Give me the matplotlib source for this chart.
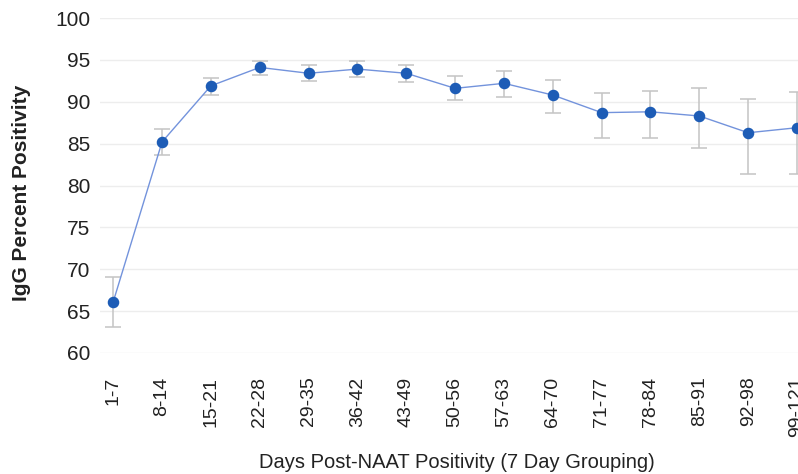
import numpy as np
import matplotlib.pyplot as plt

plt.rcParams['font.family'] = ['Liberation Sans', 'DejaVu Sans']

# 7-day groups after NAAT positivity
groups = ['1-7', '8-14', '15-21', '22-28', '29-35', '36-42', '43-49', '50-56',
          '57-63', '64-70', '71-77', '78-84', '85-91', '92-98', '99-121']
pct = [66.1, 85.2, 91.9, 94.1, 93.4, 93.9, 93.4, 91.6,
       92.2, 90.8, 88.7, 88.8, 88.3, 86.3, 86.9]
ci_low = [63.1, 83.6, 90.8, 93.2, 92.5, 92.9, 92.4, 90.2,
          90.6, 88.7, 85.7, 85.7, 84.5, 81.4, 81.4]
ci_high = [69.1, 86.7, 92.8, 94.9, 94.4, 94.9, 94.4, 93.1,
           93.7, 92.6, 91.0, 91.3, 91.6, 90.3, 91.2]

x = np.arange(len(groups))
pct = np.array(pct)
yerr = [pct - np.array(ci_low), np.array(ci_high) - pct]

fig = plt.figure(figsize=(7.98, 4.74), dpi=100)
ax = fig.add_axes([100/798, (474-353)/474, 698/798, 335/474])

ax.errorbar(x, pct, yerr=yerr, fmt='none', ecolor='#c4c4c4', elinewidth=1.1,
            capsize=5.5, capthick=1.1, zorder=2)
ax.plot(x, pct, color='#7393dc', lw=1.0, zorder=3)
ax.plot(x, pct, 'o', color='#1d5cb6', ms=7.3, zorder=4, clip_on=False)

ax.set_ylim(60, 100)
ax.set_yticks(np.arange(60, 101, 5))
ax.set_xlim(-0.27, 14.02)
ax.set_xticks(x)
ax.set_xticklabels(groups, rotation=90, fontsize=14, color='#222222')
ax.tick_params(axis='y', length=0, pad=7, labelsize=15, labelcolor='#222222')
ax.tick_params(axis='x', length=0, pad=17)
ax.grid(axis='y', color='#ededed', lw=1.0)
ax.set_axisbelow(True)
for s in ax.spines.values():
    s.set_visible(False)

ax.set_ylabel('IgG Percent Positivity', fontsize=15, fontweight='bold',
              color='#222222', va='center')
ax.yaxis.set_label_coords(-78/698, (353-193)/335)
ax.set_xlabel('Days Post-NAAT Positivity (7 Day Grouping)', fontsize=14.5,
              color='#222222', va='center')
ax.xaxis.set_label_coords(0.511, -(462-353)/335)

fig.savefig('out.png', dpi=100)
